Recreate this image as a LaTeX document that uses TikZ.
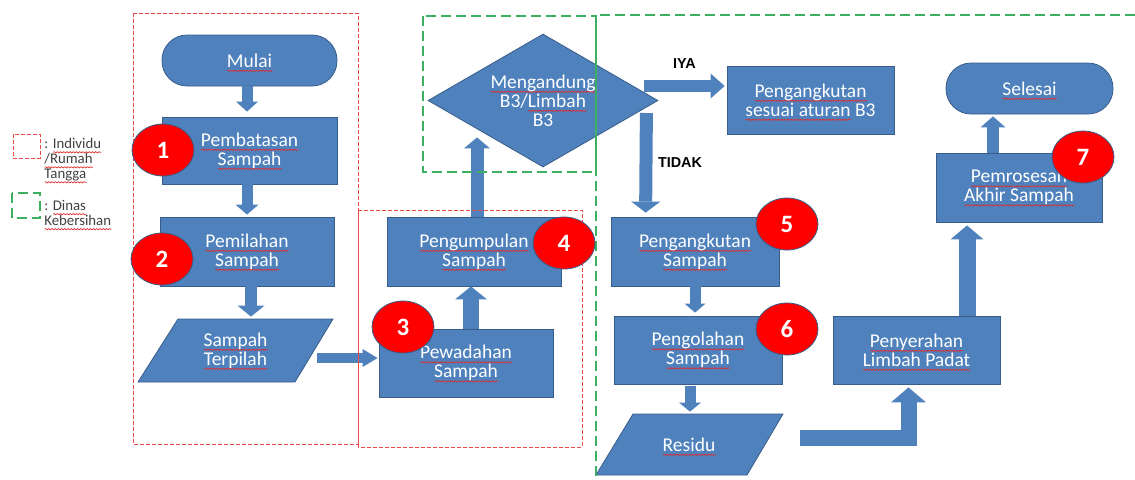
\documentclass[tikz,border=0pt]{standalone}
\usepackage{fontspec}
\setmainfont{Carlito}
\newfontfamily\arialfont{Liberation Sans}
\usetikzlibrary{shapes.geometric,arrows.meta,calc,decorations.pathmorphing}

\definecolor{birukotak}{HTML}{4F81BD}
\definecolor{birugaris}{HTML}{385D8A}
\definecolor{merahbulat}{HTML}{FF0000}
\definecolor{merahputus}{RGB}{238,72,72}
\definecolor{hijauputus}{RGB}{60,176,96}
\definecolor{merahejaan}{RGB}{225,45,45}

% garis bergelombang ejaan
\newsavebox\kata
\newlength\katalebar
\newcommand\salah[1]{\sbox\kata{#1}\setlength\katalebar{\wd\kata}%
  \rlap{\raisebox{0pt}[0pt][0pt]{\tikz[baseline=0pt, sharp corners]\path[draw=merahejaan, fill=none, solid, line width=0.35pt, decorate,
    decoration={snake, amplitude=0.3pt, segment length=1.6pt}] (0pt,-1.8pt) -- (\katalebar,-1.8pt);}}%
  \usebox\kata}

\tikzset{
  kotak/.style={draw=birugaris, line width=0.4pt, fill=birukotak, text=white, inner sep=0pt, align=center, font=\fontsize{9.75}{9.5}\selectfont},
  terminal/.style={kotak, rounded corners=12.5pt},
  jajar/.style={fill=birukotak, draw=birugaris, line width=0.4pt},
  teksjajar/.style={text=white, inner sep=0pt, align=center, font=\fontsize{9.75}{9.5}\selectfont},
  nomor/.style={ellipse, draw=birugaris, line width=0.4pt, fill=merahbulat, text=white, minimum width=31pt, minimum height=26pt, inner sep=0pt, font=\fontsize{12.5}{12.5}\bfseries\selectfont},
  blok/.style args={#1/#2/#3}{draw=birukotak, line width=#1, -{Triangle[width=#2, length=#3, line width=0pt]}},
  jawab/.style={inner sep=0pt, outer sep=0pt, font=\arialfont\fontsize{7.2}{7.2}\bfseries\selectfont},
  batasmerah/.style={draw=merahputus, line width=0.5pt, dash pattern=on 2pt off 1pt},
  batashijau/.style={draw=hijauputus, line width=0.7pt, dash pattern=on 5pt off 2.5pt},
  ket/.style={inner sep=0pt, align=left, text=black!75, font=\fontsize{7.4}{7.5}\selectfont}
}

\begin{document}
\begin{tikzpicture}[x=0.5pt, y=-0.5pt]
    \useasboundingbox (0,0) rectangle (1135,479);

    % Alur individu
    \node[terminal, minimum width=87.5pt, minimum height=25.5pt] (mulai) at (249.5,60.5) {\salah{Mulai}};
    \node[kotak, minimum width=87.5pt, minimum height=33.5pt] (pembatasan) at (249.5,150.5) {\salah{Pembatasan}\\\salah{Sampah}};
    \node[kotak, minimum width=87pt, minimum height=34.5pt] (pemilahan) at (247,251.5) {\salah{Pemilahan}\\\salah{Sampah}};
    \draw[jajar] (138,382) -- (178,319) -- (333,319) -- (295,382) -- cycle;
    \node[teksjajar, minimum width=77.5pt, minimum height=31.5pt] (terpilah) at (235.5,350.5) {\salah{Sampah}\\\salah{Terpilah}};
    \node[kotak, minimum width=87pt, minimum height=34pt] (pewadahan) at (466,363) {\salah{Pewadahan}\\\salah{Sampah}};
    \node[kotak, minimum width=87pt, minimum height=34.5pt] (pengumpulan) at (474,251.5) {\salah{Pengumpulan}\\\salah{Sampah}};

    % Alur dinas
    \node[diamond, kotak, shape aspect=1.73, minimum width=115pt, minimum height=66.5pt] (b3) at (543,100.5) {\salah{Mengandung}\\B3/\salah{Limbah}\\B3};
    \node[kotak, minimum width=83.5pt, minimum height=34pt] (angkutb3) at (810.5,100) {\salah{Pengangkutan}\\\salah{sesuai aturan} B3};
    \node[kotak, minimum width=84pt, minimum height=34.5pt] (angkutan) at (695,251.5) {\salah{Pengangkutan}\\\salah{Sampah}};
    \node[kotak, minimum width=84pt, minimum height=34pt] (pengolahan) at (698,350) {\salah{Pengolahan}\\\salah{Sampah}};
    \draw[jajar] (596,475) -- (633,414) -- (783,414) -- (747,475) -- cycle;
    \node[teksjajar, minimum width=75pt, minimum height=30.5pt] (residu) at (689,444.5) {\salah{Residu}};
    \node[kotak, minimum width=83.5pt, minimum height=34pt] (penyerahan) at (916.5,350) {\salah{Penyerahan}\\\salah{Limbah Padat}};
    \node[kotak, minimum width=83pt, minimum height=34.5pt] (pemrosesan) at (1019,187.5) {\salah{Pemrosesan}\\\salah{Akhir Sampah}};
    \node[terminal, minimum width=83.5pt, minimum height=25.5pt] (selesai) at (1029.5,88.5) {\salah{Selesai}};

    % Panah
    \draw[blok=5.5pt/11pt/5pt] ($(mulai.south)+(-2.5,0)$) -- ($(pembatasan.north)+(-2.5,-5)$);
    \draw[blok=5.5pt/11.5pt/5pt] ($(pembatasan.south)+(-2.5,0)$) -- ($(pemilahan.north)+(0,-2)$);
    \draw[blok=6pt/13.5pt/5.5pt] ($(pemilahan.south)+(4,0)$) -- ($(terpilah.north)+(15.5,-2)$);
    \draw[blok=4.7pt/9pt/7.5pt] ($(terpilah.east)+(4,7.5)$) -- ($(pewadahan.west)+(-1,-5)$);
    \draw[blok=8pt/16pt/6.5pt] ($(pewadahan.north)+(5,0)$) -- ($(pengumpulan.south)+(-3,0)$);
    \draw[blok=6.5pt/13pt/5.5pt] ($(pengumpulan.north)+(3,0)$) -- ($(b3.south)+(-66,-30)$);
    \draw[blok=6pt/12.5pt/7pt] ($(b3.east)+(-14,-14.5)$) -- node[midway, above=9pt, jawab] {IYA} ($(angkutb3.west)+(-2,-14)$);
    \draw[blok=6.5pt/14.5pt/5.5pt] ($(b3.east)+(-12,12.5)$) -- node[midway, right=6pt, jawab] {TIDAK} ($(angkutan.north west)+(35,-4)$);
    \draw[blok=5.5pt/10.5pt/4.5pt] (angkutan.south) -- ($(pengolahan.north)+(-3,-3)$);
    \draw[blok=5.5pt/11pt/4.5pt] ($(pengolahan.south)+(-8,2)$) -- ($(residu.north)+(1,-2)$);
    \draw[blok=8pt/17.5pt/7.5pt] ($(residu.east)+(36,-7)$) -| ($(penyerahan.south)+(-8,3)$);
    \draw[blok=8.5pt/16.5pt/7pt] ($(penyerahan.north)+(50.5,0)$) -- ($(pemrosesan.south)+(-52,3)$);
    \draw[blok=6pt/12.5pt/5.5pt] ($(pemrosesan.north)+(-26,0)$) -- ($(selesai.south)+(-36.5,2)$);

    % Batas tanggung jawab
    \draw[batasmerah] (133,13) rectangle (358,444);
    \draw[batasmerah] (358,210) rectangle (582,447);
    \draw[batashijau] (423,16) rectangle (596,172);
    \draw[batashijau] (1135,15) -- (596,15) -- (596,479);

    % Keterangan
    \draw[batasmerah] (13,134) rectangle (40,158);
    \draw[batashijau] (12,193) rectangle (40,218);
    \node[ket, anchor=north west] (ketmerah) at (44,138) {: \salah{Individu}\\\salah{/Rumah}\\\salah{Tangga}};
    \node[ket, anchor=north west] (kethijau) at (44,200) {: \salah{Dinas}\\\salah{Kebersihan}};

    % Nomor
    \foreach \n/\x/\y in {1/163/150, 2/162/259, 3/403/327, 4/564/243, 5/787/224, 6/787/329, 7/1083/157}
        \node[nomor] (no\n) at (\x,\y) {\n};

\end{tikzpicture}
\end{document}
